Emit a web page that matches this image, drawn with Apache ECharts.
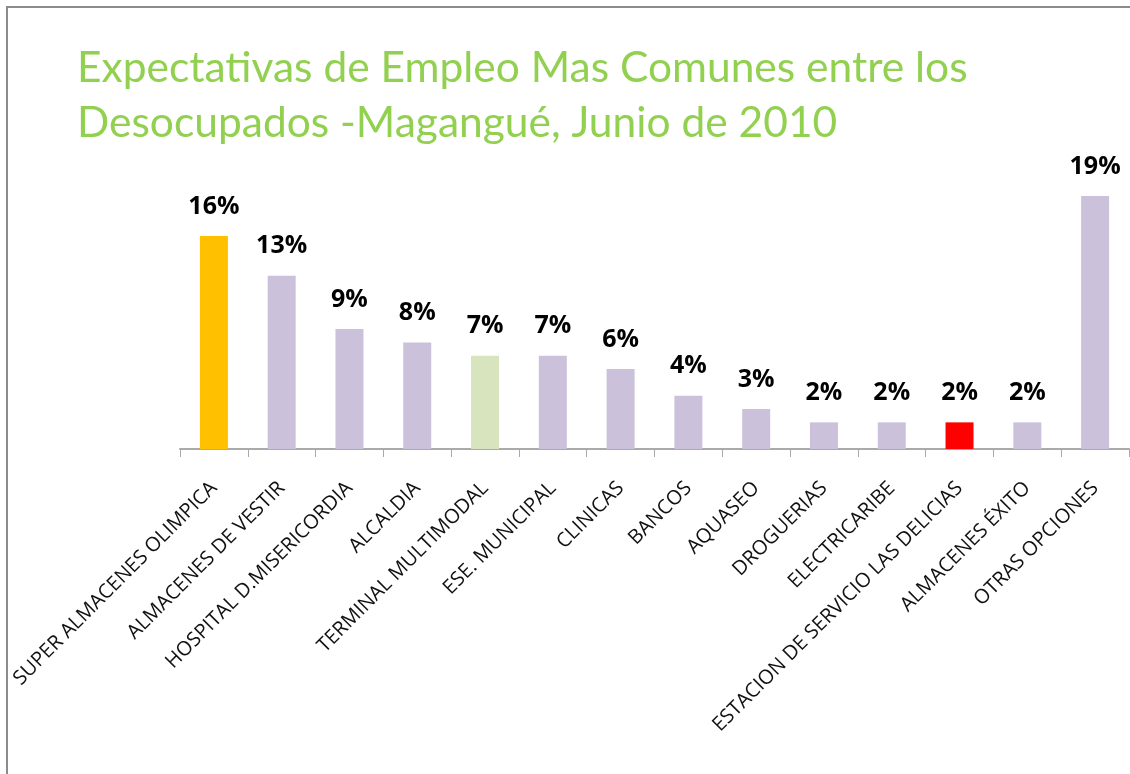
<!DOCTYPE html>
<html>
<head>
<meta charset="utf-8">
<script src="https://cdn.jsdelivr.net/npm/echarts@6/dist/echarts.min.js"></script>
<style>
  html, body { margin: 0; padding: 0; background: #fff; }
  #chart { width: 1130px; height: 774px; }
</style>
</head>
<body>
<div id="chart"></div>
<script>
// datos de la gráfica
var categorias = [
  'SUPER ALMACENES OLIMPICA', 'ALMACENES DE VESTIR', 'HOSPITAL D.MISERICORDIA',
  'ALCALDIA', 'TERMINAL MULTIMODAL', 'ESE. MUNICIPAL', 'CLINICAS', 'BANCOS',
  'AQUASEO', 'DROGUERIAS', 'ELECTRICARIBE', 'ESTACION DE SERVICIO LAS DELICIAS',
  'ALMACENES ÉXITO', 'OTRAS OPCIONES'
];
var porcentajes = [16, 13, 9, 8, 7, 7, 6, 4, 3, 2, 2, 2, 2, 19];
var colores = [
  '#FFC000', '#CCC1DA', '#CCC1DA', '#CCC1DA', '#D7E4BD', '#CCC1DA', '#CCC1DA',
  '#CCC1DA', '#CCC1DA', '#CCC1DA', '#CCC1DA', '#FF0000', '#CCC1DA', '#CCC1DA'
];

var chart = echarts.init(document.getElementById('chart'));

chart.setOption({
  animation: false,
  title: {
    text: 'Expectativas de Empleo Mas Comunes entre los\nDesocupados -Magangué, Junio de 2010',
    left: 72,
    top: 36,
    textStyle: {
      color: '#92D050',
      fontFamily: 'Lato',
      fontWeight: 'normal',
      fontSize: 42.5,
      lineHeight: 55
    }
  },
  graphic: [{
    type: 'rect',
    shape: { x: 7, y: 7, width: 1200, height: 900 },
    style: { fill: 'none', stroke: '#8c8c8c', lineWidth: 2 },
    silent: true
  }],
  grid: { left: 180, right: 1, top: 116, bottom: 325, containLabel: false },
  xAxis: {
    type: 'category',
    data: categorias,
    axisLine: { lineStyle: { color: '#aaaaaa', width: 2 } },
    axisTick: { show: true, alignWithLabel: false, length: 8, lineStyle: { color: '#aaaaaa' } },
    axisLabel: {
      interval: 0,
      rotate: 45,
      margin: 36,
      color: '#111',
      fontFamily: 'Open Sans',
      fontSize: 20
    }
  },
  yAxis: {
    type: 'value',
    min: 0,
    max: 25,
    show: false,
    splitLine: { show: false }
  },
  series: [{
    type: 'bar',
    barWidth: 28,
    data: porcentajes.map(function (v, i) {
      return { value: v, itemStyle: { color: colores[i] } };
    }),
    label: {
      show: true,
      position: 'top',
      distance: 17,
      formatter: '{c}%',
      color: '#000',
      fontFamily: 'Open Sans',
      fontWeight: 'bold',
      fontSize: 25
    }
  }]
});
</script>
</body>
</html>
